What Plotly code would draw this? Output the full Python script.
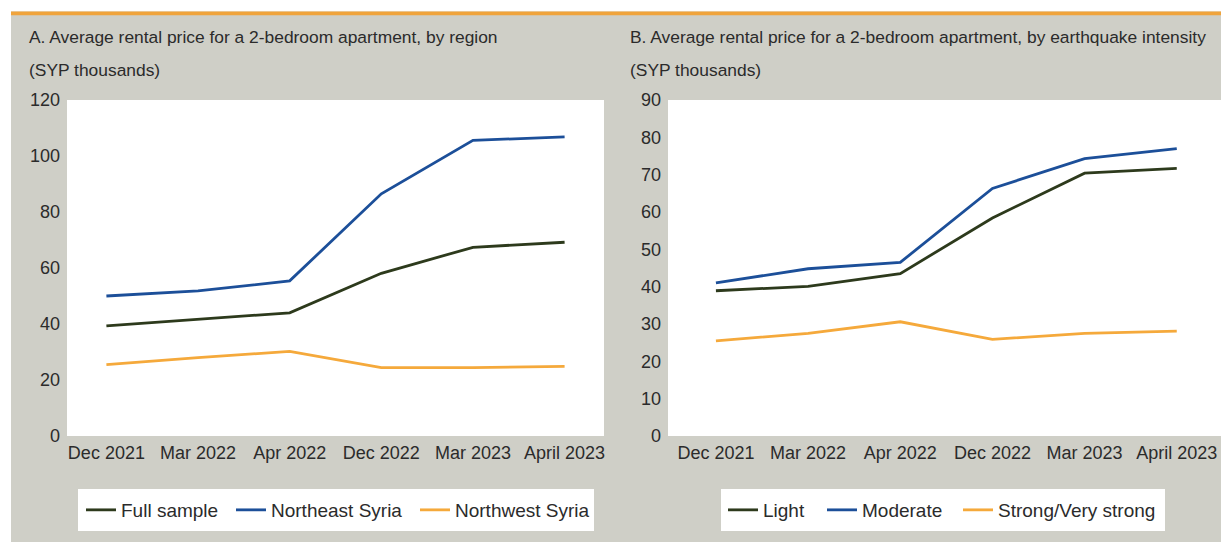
import plotly.graph_objects as go

W, H = 1221, 543

categories = ["Dec 2021", "Mar 2022", "Apr 2022", "Dec 2022", "Mar 2023", "April 2023"]

# Panel A: by region (SYP thousands)
full_sample = [39.3, 41.7, 44.0, 58.1, 67.4, 69.2]
northeast_syria = [50.0, 51.8, 55.4, 86.5, 105.6, 106.8]
northwest_syria = [25.5, 28.0, 30.2, 24.4, 24.4, 24.9]

# Panel B: by earthquake intensity (SYP thousands)
light = [38.9, 40.1, 43.5, 58.4, 70.4, 71.7]
moderate = [41.0, 44.8, 46.5, 66.3, 74.3, 77.0]
strong = [25.5, 27.5, 30.6, 25.9, 27.5, 28.1]

yticks_a = [0, 20, 40, 60, 80, 100, 120]
yticks_b = [0, 10, 20, 30, 40, 50, 60, 70, 80, 90]

C_DARK = "#2d3a1c"
C_BLUE = "#1c4f99"
C_ORANGE = "#f5a93b"
C_BG = "#cfcfc7"
C_TEXT = "#2b2b2b"
FONT = "Liberation Sans Narrow, Arial Narrow, Liberation Sans, Arial, sans-serif"


def px(x):
    return x / W


def py(y):
    return 1 - y / H


fig = go.Figure()

for name, vals, col, lw in [("Full sample", full_sample, C_DARK, 105),
                            ("Northeast Syria", northeast_syria, C_BLUE, 139),
                            ("Northwest Syria", northwest_syria, C_ORANGE, 130)]:
    fig.add_trace(go.Scatter(x=categories, y=vals, name=name, mode="lines",
                             line=dict(color=col, width=2.8), legendwidth=lw,
                             xaxis="x", yaxis="y", legend="legend"))

for name, vals, col, lw in [("Light", light, C_DARK, 54),
                            ("Moderate", moderate, C_BLUE, 91),
                            ("Strong/Very strong", strong, C_ORANGE, 160)]:
    fig.add_trace(go.Scatter(x=categories, y=vals, name=name, mode="lines",
                             line=dict(color=col, width=2.8), legendwidth=lw,
                             xaxis="x2", yaxis="y2", legend="legend2"))

axis_font = dict(family=FONT, size=18, color=C_TEXT)
common_x = dict(type="category", showgrid=False, zeroline=False, showline=False,
                ticks="", tickfont=axis_font, ticklabelstandoff=4, automargin=False)
common_y = dict(showgrid=False, zeroline=False, showline=False, ticks="",
                tickfont=axis_font, ticklabelstandoff=6, automargin=False)

legend_font = dict(family=FONT, size=19, color=C_TEXT)

fig.update_layout(
    width=W, height=H,
    margin=dict(l=0, r=0, t=0, b=0, pad=0, autoexpand=False),
    paper_bgcolor=C_BG,
    plot_bgcolor="white",
    xaxis=dict(domain=[px(67), px(604)], range=[-0.43, 5.43], anchor="y", **common_x),
    yaxis=dict(domain=[py(436), py(100)], range=[0, 120], tickvals=yticks_a, anchor="x", **common_y),
    xaxis2=dict(domain=[px(668), 1.0], range=[-0.52, 5.48], anchor="y2", **common_x),
    yaxis2=dict(domain=[py(436), py(100)], range=[0, 90], tickvals=yticks_b, anchor="x2", **common_y),
    legend=dict(orientation="h", x=px(81), xanchor="left", y=py(510), yanchor="middle",
                bgcolor="rgba(0,0,0,0)", font=legend_font, itemclick=False,
                itemdoubleclick=False),
    legend2=dict(orientation="h", x=px(723), xanchor="left", y=py(510), yanchor="middle",
                 bgcolor="rgba(0,0,0,0)", font=legend_font, itemclick=False,
                 itemdoubleclick=False),
    showlegend=True,
)

shapes = [
    # white page margins around the gray panel
    dict(type="rect", xref="paper", yref="paper", x0=0, x1=1.0, y0=py(11.5), y1=1.0,
         fillcolor="white", line=dict(width=0), layer="below"),
    dict(type="rect", xref="paper", yref="paper", x0=0, x1=px(11), y0=0, y1=1.0,
         fillcolor="white", line=dict(width=0), layer="below"),
    dict(type="rect", xref="paper", yref="paper", x0=0, x1=1.0, y0=0, y1=py(542),
         fillcolor="white", line=dict(width=0), layer="below"),
    # orange top rule
    dict(type="rect", xref="paper", yref="paper", x0=px(11), x1=1.0, y0=py(15.3), y1=py(11.5),
         fillcolor="#f0a43c", line=dict(width=0), layer="below"),
    # legend boxes
    dict(type="rect", xref="paper", yref="paper", x0=px(78), x1=px(594), y0=py(531), y1=py(489),
         fillcolor="white", line=dict(width=0), layer="below"),
    dict(type="rect", xref="paper", yref="paper", x0=px(721), x1=px(1165), y0=py(531), y1=py(489),
         fillcolor="white", line=dict(width=0), layer="below"),
]
fig.update_layout(shapes=shapes)

title_font = dict(family=FONT, size=17.4, color=C_TEXT)
annotations = [
    dict(text="A. Average rental price for a 2-bedroom apartment, by region",
         x=px(27), y=py(37), xref="paper", yref="paper", xanchor="left", yanchor="middle",
         showarrow=False, font=title_font),
    dict(text="(SYP thousands)", x=px(27), y=py(70), xref="paper", yref="paper",
         xanchor="left", yanchor="middle", showarrow=False, font=title_font),
    dict(text="B. Average rental price for a 2-bedroom apartment, by earthquake intensity",
         x=px(628), y=py(37), xref="paper", yref="paper", xanchor="left", yanchor="middle",
         showarrow=False, font=title_font),
    dict(text="(SYP thousands)", x=px(628), y=py(70), xref="paper", yref="paper",
         xanchor="left", yanchor="middle", showarrow=False, font=title_font),
]
fig.update_layout(annotations=annotations)

fig.write_html("out.html", config={"displayModeBar": False},
               post_script="document.body.style.margin='0px';document.body.style.overflow='hidden';")
